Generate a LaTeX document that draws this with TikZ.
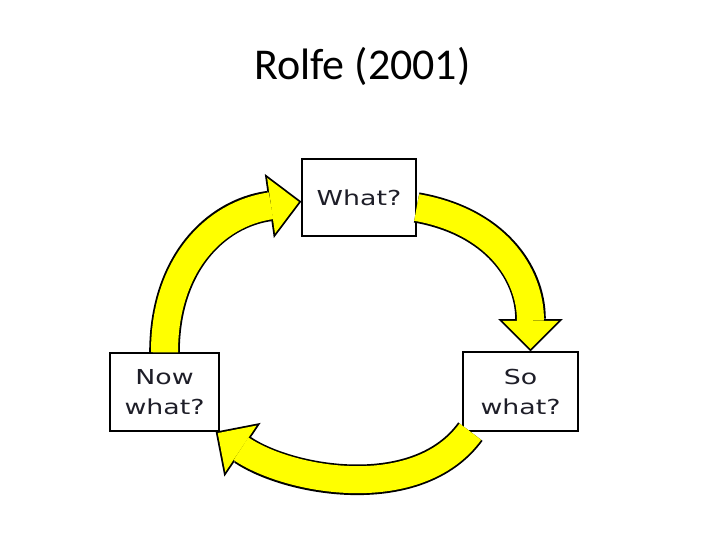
\documentclass[tikz,border=0pt]{standalone}
\usepackage{fontspec}
\setmainfont{Carlito}
\newfontfamily\boxfont[FakeStretch=1.3]{DejaVu Sans}
\usetikzlibrary{arrows.meta}
\definecolor{RolfeYellow}{RGB}{255,255,0}
\definecolor{RolfeText}{RGB}{30,30,40}

\begin{document}
\begin{tikzpicture}[
x=1pt,y=1pt,
box/.style={
rectangle,draw=black,fill=white,line width=1.3pt,
inner sep=0pt,align=center,text=RolfeText,
font=\boxfont\fontsize{20.6}{30}\selectfont
},
arrow/.style={
draw=RolfeYellow,line width=27pt,shorten >=2.55pt,
-{Triangle[length=28pt,width=56pt,line width=0pt]},
preaction={draw=black,line width=30.6pt,shorten >=0pt,
-{Triangle[length=32.35pt,width=64.7pt,line width=0pt]}}
}
]

\path[fill=white] (0,0) rectangle (728,-546);
\useasboundingbox (0,0) rectangle (728,-546);

\node[font=\fontsize{44}{52}\selectfont,anchor=base] (title) at (362.5,-79) {Rolfe (2001)};

\node[box,minimum width=114pt,minimum height=77pt] (what) at (359,-197.5) {What?};

\node[box,minimum width=109pt,minimum height=78pt] (now) at (164.5,-392) {Now\\what?};

\node[box,minimum width=115pt,minimum height=79pt] (so) at (520.5,-391.5) {So\\what?};

\draw[arrow] (now.north) to[out=90,in=188,looseness=1.1] ([yshift=-4pt]what.west);
\draw[arrow] ([yshift=-10pt]what.east) to[out=-10,in=90,looseness=1.1] ([xshift=10pt]so.north);
\draw[arrow] ([xshift=8pt]so.south west) to[out=234,in=-34,looseness=0.9] ([xshift=-4pt]now.south east);

\end{tikzpicture}
\end{document}
